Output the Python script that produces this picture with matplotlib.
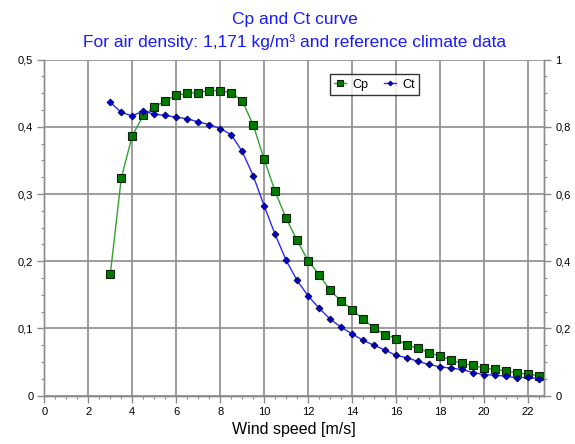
import matplotlib
matplotlib.use("agg")
import matplotlib.pyplot as plt
from matplotlib.ticker import MultipleLocator, FuncFormatter
import numpy as np

plt.rcParams['font.family'] = ['Liberation Sans', 'DejaVu Sans']

# wind speed bins [m/s]
wind = [3.0, 3.5, 4.0, 4.5, 5.0, 5.5, 6.0, 6.5, 7.0, 7.5,
        8.0, 8.5, 9.0, 9.5, 10.0, 10.5, 11.0, 11.5, 12.0, 12.5,
        13.0, 13.5, 14.0, 14.5, 15.0, 15.5, 16.0, 16.5, 17.0, 17.5,
        18.0, 18.5, 19.0, 19.5, 20.0, 20.5, 21.0, 21.5, 22.0, 22.5]

# power coefficient
cp = [0.181, 0.324, 0.387, 0.417, 0.429, 0.439, 0.447, 0.450, 0.451, 0.454,
      0.454, 0.451, 0.439, 0.403, 0.352, 0.304, 0.264, 0.231, 0.201, 0.180,
      0.157, 0.141, 0.128, 0.114, 0.101, 0.091, 0.085, 0.075, 0.071, 0.064,
      0.059, 0.053, 0.048, 0.045, 0.041, 0.039, 0.037, 0.034, 0.032, 0.030]

# thrust coefficient
ct = [0.873, 0.843, 0.833, 0.847, 0.838, 0.834, 0.829, 0.824, 0.815, 0.807,
      0.795, 0.777, 0.727, 0.655, 0.565, 0.480, 0.403, 0.343, 0.297, 0.261,
      0.228, 0.204, 0.184, 0.165, 0.150, 0.136, 0.120, 0.113, 0.102, 0.093,
      0.086, 0.082, 0.078, 0.069, 0.063, 0.061, 0.058, 0.053, 0.055, 0.050]

grey = '#8c8c8c'

def comma(v, pos):
	s = ('%.1f' % v).rstrip('0').rstrip('.')
	return s.replace('.', ',')

fig = plt.figure(figsize=(5.75, 4.44), dpi=100)
ax = fig.add_axes([0.0772, 0.1088, 0.8694, 0.7568])
ax2 = ax.twinx()

ax.set_xlim(0, 22.75)
ax.set_ylim(0, 0.5)
ax2.set_ylim(0, 1)

ax.xaxis.set_major_locator(MultipleLocator(2))
ax.xaxis.set_minor_locator(MultipleLocator(0.5))
ax.yaxis.set_major_locator(MultipleLocator(0.1))
ax.yaxis.set_minor_locator(MultipleLocator(0.025))
ax2.yaxis.set_major_locator(MultipleLocator(0.2))
ax2.yaxis.set_minor_locator(MultipleLocator(0.05))
ax.yaxis.set_major_formatter(FuncFormatter(comma))
ax2.yaxis.set_major_formatter(FuncFormatter(comma))

ax.grid(True, which='major', color=grey, linewidth=1.2)
ax.set_axisbelow(True)

for a in (ax, ax2):
	a.spines['top'].set_visible(False)
	for s in ('left', 'right', 'bottom'):
		a.spines[s].set_color(grey)
		a.spines[s].set_linewidth(1.0)
	a.tick_params(which='major', direction='out', length=5, width=1.0,
	              color=grey, labelsize=8, pad=3)
	a.tick_params(which='minor', direction='out', length=2.5, width=0.8,
	              color=grey)

ln1, = ax.plot(wind, cp, color='#33a033', linewidth=1.0, marker='s',
               markersize=6, markerfacecolor='#007a00',
               markeredgecolor='#102010', markeredgewidth=0.8,
               label='Cp', zorder=4)
ln2, = ax2.plot(wind, ct, color='#2a2aff', linewidth=1.0, marker='D',
                markersize=3.5, markerfacecolor='#0000d0',
                markeredgecolor='#000040', markeredgewidth=0.6,
                label='Ct', zorder=4)

leg = ax2.legend([ln1, ln2], ['Cp', 'Ct'], ncol=2, loc='upper left',
                 bbox_to_anchor=(0.558, 0.975), fontsize=9, frameon=True,
                 fancybox=False, handlelength=1.0, handletextpad=0.5,
                 columnspacing=1.2, borderpad=0.35, markerscale=0.7)
leg.get_frame().set_edgecolor('black')
leg.get_frame().set_linewidth(1.0)

ax.set_xlabel('Wind speed [m/s]', fontsize=11.5, labelpad=4)

fig.text(0.512, 0.955, 'Cp and Ct curve', ha='center', va='center',
         color='#1a1aff', fontsize=12.5)
fig.text(0.512, 0.905, 'For air density: 1,171 kg/m³ and reference climate data',
         ha='center', va='center', color='#1a1aff', fontsize=12.5)

fig.savefig('out.png', dpi=100)
